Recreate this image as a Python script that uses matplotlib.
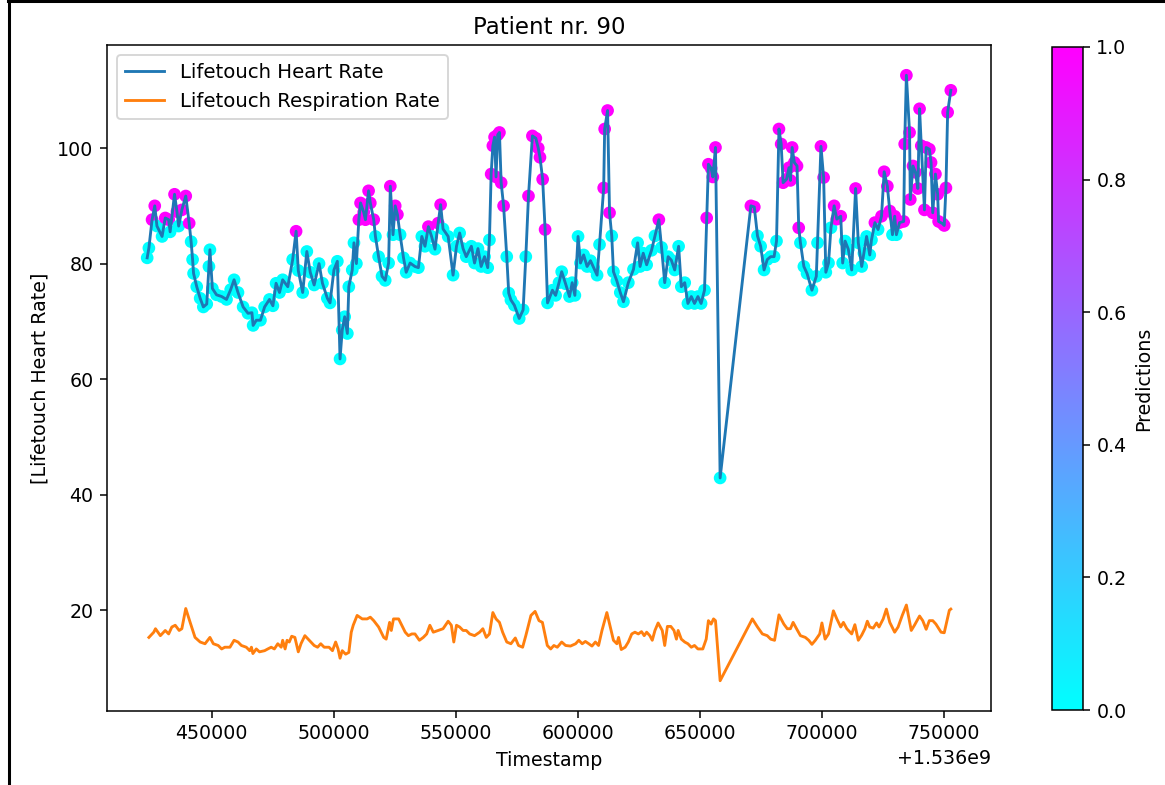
import numpy as np
import matplotlib
matplotlib.use("Agg")
import matplotlib.pyplot as plt
from matplotlib.lines import Line2D

BASE = 1.536e9

# Heart rate: timestamp offsets (thousand s), values, predictions
hr_t = [423.6, 424.3, 425.6, 426.7, 427.6, 429.7, 431.0, 432.4, 433.0, 434.8, 435.8, 436.5, 437.8, 439.4,
        440.8, 441.6, 442.2, 442.6, 443.9, 445.3, 446.6, 448.0, 448.9, 449.3, 450.3, 452.0, 454.1, 456.1,
        457.8, 459.2, 460.8, 462.9, 464.9, 466.5, 467.0, 468.3, 470.0, 471.7, 473.7, 475.1, 476.4, 477.8,
        479.1, 481.2, 483.2, 484.6, 485.5, 487.3, 489.0, 490.4, 492.0, 494.0, 495.4, 497.4, 498.5, 500.1,
        501.5, 502.6, 503.5, 504.5, 505.6, 506.2, 507.6, 508.3, 509.3, 510.3, 511.0, 512.3, 513.0, 514.3,
        515.0, 516.4, 517.1, 518.4, 519.8, 521.1, 522.5, 523.2, 524.3, 525.2, 526.1, 527.2, 528.6, 529.7,
        531.3, 533.3, 534.7, 536.1, 537.4, 538.8, 540.1, 541.5, 542.8, 543.8, 544.8, 546.9, 548.9, 550.3,
        551.6, 553.0, 554.3, 556.4, 557.7, 559.1, 560.4, 561.8, 563.1, 563.8, 564.5, 565.2, 565.9, 566.5,
        567.2, 567.9, 568.6, 569.6, 570.9, 571.7, 572.6, 574.0, 576.0, 577.6, 578.7, 579.8, 581.4, 582.8,
        583.8, 584.5, 585.6, 586.6, 587.6, 589.6, 590.9, 592.3, 593.4, 595.0, 596.6, 597.7, 598.8, 600.1,
        601.1, 602.4, 603.8, 605.2, 606.5, 607.9, 608.9, 610.6, 611.0, 612.2, 613.0, 613.9, 614.6, 616.0,
        617.4, 618.7, 620.7, 622.8, 624.5, 625.5, 626.8, 628.2, 630.2, 631.6, 633.2, 634.3, 635.6, 637.0,
        638.3, 639.7, 641.3, 642.4, 643.8, 645.1, 646.5, 647.8, 649.2, 650.5, 651.9, 652.8, 653.5, 654.6,
        655.3, 656.4, 658.3, 670.9, 672.3, 673.6, 674.9, 676.3, 677.6, 679.0, 680.4, 681.4, 682.4, 683.3,
        684.1, 685.5, 686.5, 687.1, 687.8, 688.7, 689.8, 690.5, 691.2, 692.6, 693.9, 695.9, 697.7, 698.2,
        699.6, 700.7, 701.6, 702.7, 703.7, 705.0, 706.1, 707.7, 708.5, 709.5, 710.8, 712.2, 713.8, 714.9,
        716.3, 717.2, 718.3, 719.6, 720.3, 721.7, 723.0, 724.4, 725.5, 726.8, 727.8, 728.9, 729.8, 730.5,
        731.8, 733.5, 733.9, 734.6, 735.9, 736.2, 737.3, 738.3, 739.3, 740.0, 740.7, 742.0, 742.7, 744.0,
        744.7, 745.4, 746.5, 747.4, 747.8, 749.5, 750.1, 750.8, 751.5, 752.8]
hr_v = [81.0, 82.7, 87.6, 90.0, 86.5, 84.7, 87.9, 87.6, 85.5, 92.0, 89.0, 86.5, 89.3, 91.7,
        87.0, 83.8, 80.7, 78.3, 76.0, 74.0, 72.5, 73.0, 79.5, 82.4, 75.7, 74.6, 74.3, 73.8,
        75.5, 77.2, 75.0, 72.5, 71.4, 71.5, 69.3, 70.2, 70.2, 72.5, 73.8, 72.7, 76.6, 75.0,
        77.2, 76.0, 80.7, 85.6, 78.8, 75.0, 82.1, 78.5, 76.3, 80.0, 76.6, 74.0, 73.2, 78.9,
        80.4, 63.5, 68.5, 70.8, 67.9, 76.0, 78.9, 83.6, 80.0, 87.6, 90.5, 88.9, 87.6, 92.6,
        90.5, 87.6, 84.7, 81.2, 77.8, 77.1, 80.1, 93.4, 85.0, 90.0, 88.5, 85.0, 81.0, 78.5,
        80.1, 79.5, 79.3, 84.7, 83.0, 86.4, 84.7, 82.5, 87.0, 90.2, 86.0, 84.7, 78.0, 83.0,
        85.3, 82.6, 81.2, 83.0, 80.1, 82.6, 79.5, 81.2, 79.3, 84.1, 95.5, 100.4, 101.9, 95.0,
        102.3, 102.7, 94.0, 90.0, 81.2, 74.9, 73.7, 72.8, 70.5, 72.0, 81.2, 91.7, 102.1, 101.7,
        100.0, 98.4, 94.6, 85.9, 73.2, 75.4, 74.5, 76.7, 78.6, 76.5, 74.3, 76.7, 74.5, 84.7,
        80.1, 81.5, 79.5, 80.5, 79.3, 78.0, 83.3, 93.1, 103.3, 106.5, 88.8, 84.8, 78.6, 77.0,
        75.0, 73.4, 76.7, 79.0, 83.6, 79.5, 81.8, 79.8, 82.3, 84.8, 87.6, 82.8, 76.7, 81.2,
        80.6, 78.9, 83.0, 76.0, 76.7, 73.1, 74.3, 73.1, 74.3, 73.1, 75.4, 87.9, 97.2, 96.5,
        95.0, 100.1, 42.9, 90.0, 89.8, 84.8, 83.0, 78.9, 80.7, 81.2, 81.2, 83.9, 103.3, 100.7,
        94.0, 94.6, 96.6, 94.4, 100.1, 97.5, 96.9, 86.2, 83.6, 79.5, 78.3, 75.4, 77.8, 83.6,
        100.3, 94.9, 78.5, 80.1, 86.2, 90.0, 87.7, 88.2, 80.1, 83.9, 82.5, 78.9, 93.0, 83.6,
        79.5, 81.8, 84.7, 81.5, 84.1, 87.1, 85.9, 88.2, 95.9, 93.4, 89.1, 85.0, 88.2, 85.0,
        87.1, 87.3, 100.7, 112.6, 102.7, 91.1, 96.9, 95.8, 93.0, 106.8, 100.4, 89.3, 100.1, 99.8,
        97.5, 88.8, 95.5, 92.0, 87.3, 86.9, 86.6, 93.1, 106.2, 110.0]
hr_pred = [0, 0, 1, 1, 0, 0, 1, 1, 0, 1, 1, 0, 1, 1,
           1, 0, 0, 0, 0, 0, 0, 0, 0, 0, 0, 0, 0, 0,
           0, 0, 0, 0, 0, 0, 0, 0, 0, 0, 0, 0, 0, 0,
           0, 0, 0, 1, 0, 0, 0, 0, 0, 0, 0, 0, 0, 0,
           0, 0, 0, 0, 0, 0, 0, 0, 0, 1, 1, 1, 1, 1,
           1, 1, 0, 0, 0, 0, 0, 1, 0, 1, 1, 0, 0, 0,
           0, 0, 0, 0, 0, 1, 0, 0, 1, 1, 0, 0, 0, 0,
           0, 0, 0, 0, 0, 0, 0, 0, 0, 0, 1, 1, 1, 1,
           1, 1, 1, 1, 0, 0, 0, 0, 0, 0, 0, 1, 1, 1,
           1, 1, 1, 1, 0, 0, 0, 0, 0, 0, 0, 0, 0, 0,
           0, 0, 0, 0, 0, 0, 0, 1, 1, 1, 1, 0, 0, 0,
           0, 0, 0, 0, 0, 0, 0, 0, 0, 0, 1, 0, 0, 0,
           0, 0, 0, 0, 0, 0, 0, 0, 0, 0, 0, 1, 1, 1,
           1, 1, 0, 1, 1, 0, 0, 0, 0, 0, 0, 0, 1, 1,
           1, 1, 1, 1, 1, 1, 1, 1, 0, 0, 0, 0, 0, 0,
           1, 1, 0, 0, 0, 1, 1, 1, 0, 0, 0, 0, 1, 0,
           0, 0, 0, 0, 0, 1, 0, 1, 1, 1, 1, 0, 1, 0,
           1, 1, 1, 1, 1, 1, 1, 1, 1, 1, 1, 1, 1, 1,
           1, 1, 1, 1, 1, 1, 1, 1, 1, 1]

# Respiration rate
rr_t = [424.3, 426.3, 427.0, 429.0, 431.0, 432.4, 433.7, 435.1, 436.7, 437.8, 439.4, 441.2, 443.2, 445.3,
        447.3, 449.3, 450.7, 452.7, 454.1, 455.4, 457.5, 459.2, 460.8, 462.2, 464.2, 465.6, 466.3, 466.9,
        468.3, 469.6, 471.7, 473.0, 474.4, 475.7, 477.1, 478.5, 479.1, 480.1, 480.9, 481.8, 482.8, 484.1,
        485.5, 486.6, 488.2, 490.0, 492.0, 493.4, 494.7, 496.1, 498.1, 499.5, 500.8, 501.8, 502.6, 503.5,
        504.9, 506.2, 507.2, 508.0, 509.6, 511.7, 513.7, 515.0, 516.4, 518.4, 520.5, 521.5, 522.9, 523.6,
        524.5, 526.6, 527.9, 529.3, 530.6, 532.0, 533.3, 535.1, 536.7, 538.1, 539.4, 540.8, 542.8, 544.8,
        546.9, 548.2, 549.2, 550.3, 551.6, 553.0, 554.3, 555.7, 557.7, 559.8, 561.1, 562.5, 563.8, 565.2,
        566.5, 567.9, 569.2, 570.9, 572.6, 574.4, 575.7, 577.4, 578.7, 580.8, 582.5, 584.1, 585.5, 586.2,
        587.5, 588.9, 590.2, 591.6, 593.4, 595.0, 597.0, 599.1, 600.4, 601.8, 603.1, 604.5, 605.8, 607.2,
        608.5, 609.9, 611.9, 613.3, 614.6, 616.0, 616.7, 617.8, 619.4, 620.7, 622.1, 623.4, 624.8, 626.1,
        627.2, 628.2, 629.5, 630.5, 631.6, 632.9, 634.6, 635.6, 636.7, 638.1, 639.4, 640.4, 641.1, 642.4,
        643.8, 645.1, 646.5, 647.8, 649.2, 651.2, 652.6, 653.5, 654.6, 655.6, 656.4, 658.3, 671.5, 673.6,
        675.6, 677.6, 679.0, 680.6, 682.4, 684.4, 685.8, 687.1, 688.2, 689.6, 691.2, 693.2, 694.6, 695.9,
        697.3, 699.1, 700.0, 701.3, 702.7, 704.7, 706.1, 707.7, 708.8, 710.2, 712.2, 713.5, 714.9, 716.3,
        717.6, 718.6, 719.6, 721.0, 722.4, 723.4, 725.1, 726.4, 727.8, 729.8, 731.2, 732.9, 734.6, 736.6,
        737.9, 740.0, 741.3, 742.7, 744.0, 745.4, 746.7, 748.8, 750.1, 752.2, 752.8]
rr_v = [15.3, 16.2, 16.8, 15.6, 16.5, 15.9, 17.1, 17.4, 16.5, 16.8, 20.3, 17.9, 15.3, 14.5,
        14.2, 15.3, 14.2, 13.9, 13.3, 13.6, 13.6, 14.8, 14.5, 13.9, 13.6, 13.0, 13.6, 12.5,
        13.3, 12.8, 13.0, 13.3, 13.6, 13.3, 14.2, 13.6, 14.8, 13.3, 14.8, 14.5, 15.5, 15.3,
        12.8, 14.2, 15.6, 14.8, 13.9, 13.6, 14.2, 13.6, 13.6, 13.0, 14.5, 13.3, 11.7, 13.0,
        12.4, 12.7, 16.2, 17.4, 19.1, 18.5, 18.5, 18.8, 18.2, 17.1, 15.3, 15.0, 17.9, 16.5,
        18.5, 18.5, 17.4, 16.2, 15.6, 15.9, 15.9, 14.8, 15.3, 15.9, 17.4, 16.2, 16.5, 16.8,
        18.1, 17.4, 14.5, 17.4, 17.1, 16.5, 16.5, 15.9, 15.6, 16.2, 16.8, 15.3, 15.9, 19.6,
        18.5, 17.9, 16.2, 14.5, 14.2, 15.2, 13.9, 13.6, 15.6, 19.1, 19.8, 18.2, 17.9, 16.5,
        13.9, 13.3, 13.9, 13.6, 14.5, 13.9, 13.8, 14.2, 14.8, 14.2, 14.6, 14.2, 13.8, 14.5,
        13.9, 16.5, 19.6, 17.1, 14.8, 14.2, 15.3, 13.2, 13.6, 14.5, 15.9, 16.2, 15.9, 16.3,
        15.6, 16.2, 15.6, 14.8, 16.5, 17.8, 16.5, 13.9, 17.2, 17.2, 16.5, 15.0, 16.5, 15.0,
        14.5, 14.2, 13.6, 13.9, 13.3, 13.3, 15.0, 18.2, 17.6, 18.5, 18.2, 7.8, 18.5, 17.1,
        15.9, 15.6, 15.0, 14.8, 19.2, 17.6, 16.8, 16.8, 17.9, 16.8, 15.6, 15.3, 14.8, 14.1,
        14.8, 15.9, 17.8, 15.0, 15.9, 19.9, 18.5, 17.1, 17.9, 16.8, 15.9, 17.5, 14.8, 15.7,
        16.8, 18.1, 17.1, 16.9, 17.8, 17.1, 18.5, 20.2, 17.9, 16.2, 17.1, 19.1, 20.9, 16.5,
        17.4, 19.0, 18.2, 16.7, 18.2, 18.2, 17.6, 16.2, 16.1, 20.0, 20.2]

title = "Patient nr. 90"
labels = ["Lifetouch Heart Rate", "Lifetouch Respiration Rate"]

DPI = 137
W, H = 1165, 785
fig = plt.figure(figsize=(W / DPI, H / DPI), dpi=DPI)
ax = fig.add_axes([107 / W, 1 - 711 / H, (991 - 107) / W, (711 - 45) / H])
cax = fig.add_axes([1052 / W, 1 - 710 / H, 31 / W, (710 - 47) / H])

hr_x = BASE + np.array(hr_t) * 1000
rr_x = BASE + np.array(rr_t) * 1000

sc = ax.scatter(hr_x, hr_v, c=hr_pred, cmap="cool", vmin=0, vmax=1, s=32, zorder=1)
ax.plot(hr_x, hr_v, color="#1f77b4", lw=1.5, label=labels[0], zorder=2)
ax.plot(rr_x, rr_v, color="#ff7f0e", lw=1.5, label=labels[1], zorder=2)

ax.set_title(title)
ax.set_xlabel("Timestamp")
ax.set_ylabel("[Lifetouch Heart Rate]")
ax.set_yticks([20, 40, 60, 80, 100])
ax.legend(loc="upper left", fontsize=10.4)

cb = fig.colorbar(sc, cax=cax)
cb.set_label("Predictions")

# screenshot border lines
fig.add_artist(Line2D([9 / W, 9 / W], [0, 1], transform=fig.transFigure, color="black", lw=1.6))
fig.add_artist(Line2D([8 / W, 1], [1 - 1.5 / H, 1 - 1.5 / H], transform=fig.transFigure, color="black", lw=1.6))

fig.savefig("out.png", dpi=DPI)
